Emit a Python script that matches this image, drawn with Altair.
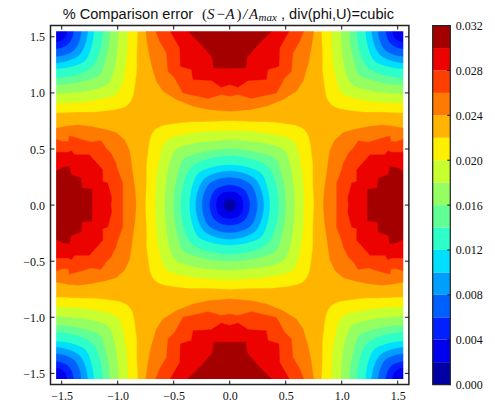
import altair as alt
import pandas as pd
import math

# band colours, low to high (0.000-0.032 in steps of 0.002)
BAND_COLORS = ["#0000a4", "#0000ec", "#0020ff", "#0060ff", "#009fff", "#00dffc", "#2effc8", "#62ff95",
               "#95ff62", "#c8ff2e", "#fcef00", "#ffb500", "#ff7a00", "#ff3f00", "#ec0300", "#a40000"]
LEVELS = [i * 0.002 for i in range(17)]
TICKS_XY = [-1.5, -1.0, -0.5, 0.0, 0.5, 1.0, 1.5]
TICKS_CB = [0.0, 0.004, 0.008, 0.012, 0.016, 0.020, 0.024, 0.028, 0.032]

# Contours around the dips (centre and corners): radius at 0, 15, 30, 45 degrees
RINGS = {
    11: [0.750, 0.768, 0.848, 0.946],
    10: [0.661, 0.679, 0.732, 0.804],
    9:  [0.580, 0.589, 0.634, 0.688],
    8:  [0.500, 0.509, 0.536, 0.580],
    7:  [0.438, 0.442, 0.462, 0.482],
    6:  [0.357, 0.362, 0.378, 0.398],
    5:  [0.304, 0.306, 0.315, 0.325],
    4:  [0.246, 0.248, 0.255, 0.262],
    3:  [0.179, 0.179, 0.183, 0.188],
    2:  [0.120, 0.120, 0.125, 0.125],
    1:  [0.054, 0.054, 0.054, 0.054],
}
DIP_CENTRES = [(0.0, 0.0), (-1.571, 1.571), (1.571, 1.571), (-1.571, -1.571), (1.571, -1.571)]

# Contours of the humps, upper half of the left hump (x, y)
LEFT_HUMP = {
    12: [(-1.556, .685), (-1.446, .706), (-1.357, .715), (-1.238, .700), (-1.119, .676), (-1.015, .647),
         (-.940, .582), (-.896, .492), (-.881, .403), (-.866, .285), (-.845, .136), (-.836, 0)],
    13: [(-1.556, .590), (-1.491, .567), (-1.440, .567), (-1.431, .617), (-1.357, .596), (-1.238, .561),
         (-1.149, .573), (-1.104, .507), (-1.060, .463), (-1.015, .374), (-1.000, .315), (-.955, .196), (-.955, 0)],
    14: [(-1.556, .472), (-1.446, .472), (-1.411, .484), (-1.387, .448), (-1.253, .448), (-1.134, .314),
         (-1.134, .210), (-1.089, .196), (-1.054, .063), (-1.060, 0)],
    15: [(-1.556, .300), (-1.491, .335), (-1.431, .344), (-1.416, .270), (-1.327, .240), (-1.318, .151),
         (-1.229, .142), (-1.229, 0)],
}
# Left half of the top hump (x, y)
TOP_HUMP = {
    12: [(-.750, 1.549), (-.729, 1.401), (-.699, 1.252), (-.655, 1.104), (-.595, 1.015), (-.476, .941),
         (-.327, .881), (-.179, .851), (0, .836)],
    13: [(-.661, 1.549), (-.625, 1.460), (-.565, 1.356), (-.551, 1.193), (-.491, 1.134), (-.417, 1.000),
         (-.193, .950), (-.074, .985), (0, .970)],
    14: [(-.530, 1.549), (-.446, 1.401), (-.440, 1.237), (-.342, 1.208), (-.327, 1.119), (-.164, 1.110),
         (-.074, 1.050), (0, 1.074)],
    15: [(-.372, 1.549), (-.253, 1.430), (-.155, 1.317), (-.143, 1.222), (0, 1.222)],
}

W, H = 358.4, 359
CB_X0, CB_X1 = 382.2, 399.8
DOMAIN = [-1.6, 1.6]
EDGE = 1.55
xs = alt.Scale(domain=DOMAIN, nice=False, zero=False)
ys = alt.Scale(domain=DOMAIN, nice=False, zero=False)
LABEL_EXPR = "replace(format(datum.value,'.1f'),'-','\u2212')"
AX = alt.Axis(values=TICKS_XY, ticks=False, grid=False, domain=False, labelFont="Liberation Serif",
              labelFontSize=12, labelColor="#111", labelPadding=6, labelExpr=LABEL_EXPR)
X = alt.X("x:Q", scale=xs, title=None, axis=AX)
Y = alt.Y("y:Q", scale=ys, title=None, axis=AX)


def ring_points(radii, cx, cy):
    seq = radii + radii[-2:0:-1]
    seq = seq * 4
    step = 15
    return [(cx + r * math.sin(math.radians(i * step)), cy + r * math.cos(math.radians(i * step)))
            for i, r in enumerate(seq)]


def band_layer(rows, color, interpolate="linear"):
    df = pd.DataFrame(rows, columns=["x", "y", "g", "i"])
    return alt.Chart(df).mark_line(fill=color, stroke=color, strokeWidth=0.3, clip=True,
                                   interpolate=interpolate).encode(
        x=X, y=Y, detail="g:N", order="i:Q")


def hump_rows(level):
    rows = []
    left = LEFT_HUMP[level]
    lpath = [(-1.75, left[0][1])] + left + [(x, -y) for x, y in reversed(left[:-1])] + [(-1.75, -left[0][1])]
    top = TOP_HUMP[level]
    tpath = [(top[0][0], 1.75)] + top + [(-x, y) for x, y in reversed(top[:-1])] + [(-top[0][0], 1.75)]
    for i, (x, y) in enumerate(lpath):
        rows.append((x, y, "left", i))
        rows.append((-x, y, "right", i))
    for i, (x, y) in enumerate(tpath):
        rows.append((x, y, "top", i))
        rows.append((x, -y, "bottom", i))
    return rows


base = alt.Chart(pd.DataFrame({"x": [-EDGE], "x2": [EDGE], "y": [-EDGE], "y2": [EDGE]})).mark_rect(
    color=BAND_COLORS[11]).encode(x=X, x2="x2:Q", y=Y, y2="y2:Q")

layers = [base]
for lv in [12, 13, 14, 15]:
    layers.append(band_layer(hump_rows(lv), BAND_COLORS[lv]))

# dips: band n-1 is bounded above by the contour in RINGS[n]; paint outermost first
for n in sorted(RINGS, reverse=True):
    color = BAND_COLORS[n - 1]
    rows = []
    for k, (cx, cy) in enumerate(DIP_CENTRES):
        if n == 1 and k > 0:
            continue
        for i, (x, y) in enumerate(ring_points(RINGS[n], cx, cy)):
            rows.append((x, y, f"d{k}", i))
    layers.append(band_layer(rows, color, "cardinal-closed"))

# empty margin between field and frame
frame = pd.DataFrame({
    "x": [-1.6, EDGE, -1.6, -1.6], "x2": [-EDGE, 1.6, 1.6, 1.6],
    "y": [-1.6, -1.6, EDGE, -1.6], "y2": [1.6, 1.6, 1.6, -EDGE]})
layers.append(alt.Chart(frame).mark_rect(color="white").encode(x=X, x2="x2:Q", y=Y, y2="y2:Q"))

# frame on top of everything in the plot
border = pd.DataFrame({"x": [-1.6], "x2": [1.6], "y": [-1.6], "y2": [1.6]})
layers.append(alt.Chart(border).mark_rect(fillOpacity=0, stroke="#222", strokeWidth=1.5).encode(
    x=X, x2="x2:Q", y=Y, y2="y2:Q"))

# inward ticks
tk = pd.DataFrame({"x": TICKS_XY, "y": TICKS_XY})
TL = 4
for yy in [(H, H - TL), (0, TL)]:
    layers.append(alt.Chart(tk).mark_rule(color="#111", strokeWidth=1).encode(
        x=X, y=alt.value(yy[0]), y2=alt.value(yy[1])))
for xx in [(0, TL), (W, W - TL)]:
    layers.append(alt.Chart(tk).mark_rule(color="#111", strokeWidth=1).encode(
        y=Y, x=alt.value(xx[0]), x2=alt.value(xx[1])))

# title in pieces (offsets from the left of the frame)
TITLE_Y = -7
SANS, SERIF = "Liberation Sans", "Liberation Serif"
pieces = [
    ("% Comparison error", 12.2, TITLE_Y, SANS, "normal", 14.6),
    ("(", 151.5, TITLE_Y, SERIF, "normal", 15),
    ("S", 156.5, TITLE_Y, SERIF, "italic", 15),
    ("\u2212", 166, TITLE_Y, SERIF, "normal", 15),
    ("A", 175, TITLE_Y, SERIF, "italic", 15),
    (")", 186, TITLE_Y, SERIF, "normal", 15),
    ("/", 192.5, TITLE_Y, SERIF, "italic", 15),
    ("A", 198.5, TITLE_Y, SERIF, "italic", 15),
    ("max", 208, TITLE_Y + 2.5, SERIF, "italic", 11),
    (", div(phi,U)=cubic", 230.5, TITLE_Y, SANS, "normal", 14.6),
]
for txt, px, py, font, style, size in pieces:
    layers.append(alt.Chart(pd.DataFrame({"t": [txt]})).mark_text(
        align="left", baseline="alphabetic", font=font, fontStyle=style, fontSize=size, color="#111").encode(
        x=alt.value(px), y=alt.value(py), text="t:N"))

main = alt.layer(*layers)

# colour bar
cb_df = pd.DataFrame({"lo": LEVELS[:-1], "hi": LEVELS[1:], "c": BAND_COLORS})
cbs = alt.Scale(domain=[0, 0.032], nice=False, zero=False)
CB_AX = alt.Axis(orient="right", offset=CB_X1 - W, values=TICKS_CB, format=".3f", ticks=False, grid=False,
                 domain=False, labelFont="Liberation Serif", labelFontSize=12, labelColor="#111", labelPadding=5)
CBY = alt.Y("lo:Q", scale=cbs, title=None, axis=CB_AX)
cb = alt.Chart(cb_df).mark_rect().encode(
    x=alt.value(CB_X0), x2=alt.value(CB_X1), y=CBY, y2="hi:Q", color=alt.Color("c:N", scale=None))
cb_ticks = alt.Chart(pd.DataFrame({"lo": TICKS_CB})).mark_rule(color="#111", strokeWidth=1).encode(
    y=CBY, x=alt.value(CB_X1 - 3), x2=alt.value(CB_X1))
cb_box = alt.Chart(pd.DataFrame({"lo": [0.0], "hi": [0.032]})).mark_rect(
    fillOpacity=0, stroke="#222", strokeWidth=1.2).encode(
    x=alt.value(CB_X0), x2=alt.value(CB_X1), y=CBY, y2="hi:Q")
colorbar = alt.layer(cb, cb_ticks, cb_box)

chart = alt.layer(main, colorbar).resolve_scale(y="independent").resolve_axis(y="independent").properties(
    width=W, height=H,
    autosize=alt.AutoSizeParams(type="none"),
    padding={"left": 42.5, "top": 17.6, "right": 78, "bottom": 21},
    background="white"
).configure_view(strokeWidth=0)

chart.save("out.html", embed_options={"renderer": "svg", "actions": False})
